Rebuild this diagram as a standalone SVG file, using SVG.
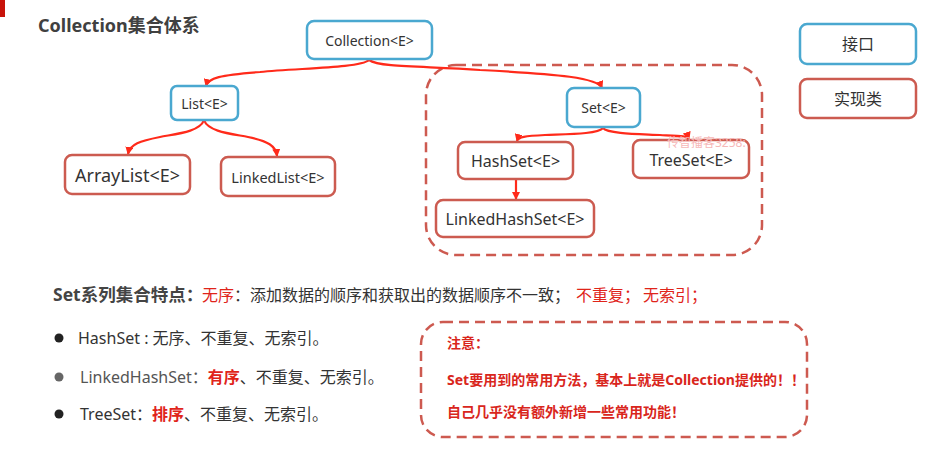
<svg xmlns="http://www.w3.org/2000/svg" width="937" height="449" viewBox="0 0 937 449">
<defs>
<style>
text{font-family:"Noto Sans","Noto Sans CJK SC",sans-serif;fill:#333}
.iface{fill:#fff;stroke:#4aa8d0;stroke-width:2.5}
.impl{fill:#fff;stroke:#cc5b50;stroke-width:2.5}
.lbl{font-size:14px;text-anchor:middle;dominant-baseline:central}
.conn{fill:none;stroke:#ff2a1a;stroke-width:2.2;marker-end:url(#arr)}
.dash{fill:none;stroke:#cd5a50;stroke-width:2.5;stroke-dasharray:10 6}
.body{font-size:16px}
.red{fill:#e0241a}
.note{font-size:14px;font-weight:bold;fill:#d9261c}
</style>
<marker id="arr" viewBox="0 0 8 8" refX="7" refY="4" markerWidth="8" markerHeight="8" markerUnits="userSpaceOnUse" orient="auto">
<path d="M0,0 L8,4 L0,8 z" fill="#ff2a1a"/>
</marker>
</defs>
<rect width="937" height="449" fill="#fff"/>
<rect x="0" y="0" width="5" height="17" fill="#c8130a"/>
<text x="38" y="32" style="font-size:18px;font-weight:bold;fill:#404040">Collection集合体系</text>

<rect class="dash" x="426" y="65" width="336" height="190" rx="30"/>

<g id="connectors">
<path class="conn" d="M369,60 C360,68 300,68 260,72 C220,75 208,78 206,86"/>
<path class="conn" d="M369,60 C380,68 430,66 480,70 C560,74 598,78 602,88"/>
<path class="conn" d="M204,120 C200,132 175,134 160,137 C140,141 130,144 128,154"/>
<path class="conn" d="M204,120 C208,132 233,134 248,137 C268,141 276,146 277,156"/>
<path class="conn" d="M603,128 C598,134 570,134 545,135 C525,136 518,137 517,141"/>
<path class="conn" d="M603,128 C608,134 640,134 660,135 C680,136 688,136 689,139"/>
<path class="conn" d="M516,180 L516,199"/>
</g>

<g id="collection"><rect class="iface" x="307" y="21" width="125" height="38" rx="7"/><text class="lbl" x="369.5" y="40">Collection&lt;E&gt;</text></g>
<g id="list"><rect class="iface" x="171" y="86" width="67" height="34" rx="6"/><text class="lbl" x="204.5" y="103">List&lt;E&gt;</text></g>
<g id="set"><rect class="iface" x="567" y="88" width="73" height="39" rx="7"/><text class="lbl" x="603.5" y="107.5">Set&lt;E&gt;</text></g>
<g id="arraylist"><rect class="impl" x="65" y="155" width="125" height="39" rx="7"/><text class="lbl" x="127.5" y="174.5" style="font-size:18px">ArrayList&lt;E&gt;</text></g>
<g id="linkedlist"><rect class="impl" x="221" y="157" width="114" height="39" rx="7"/><text class="lbl" x="278" y="176.5" style="font-size:14.5px">LinkedList&lt;E&gt;</text></g>
<g id="hashset"><rect class="impl" x="458" y="142" width="115" height="37" rx="7"/><text class="lbl" x="515.5" y="160.5" style="font-size:16px">HashSet&lt;E&gt;</text></g>
<g id="treeset"><rect class="impl" x="633" y="140" width="116" height="38" rx="7"/><text class="lbl" x="691" y="160" style="font-size:16px">TreeSet&lt;E&gt;</text></g>
<g id="linkedhashset"><rect class="impl" x="436" y="200" width="158" height="37" rx="7"/><text class="lbl" x="515" y="218.5" style="font-size:16px">LinkedHashSet&lt;E&gt;</text></g>

<g id="legend-interface"><rect class="iface" x="800" y="24" width="116" height="40" rx="7"/><text class="lbl" x="858" y="44" style="font-size:16px">接口</text></g>
<g id="legend-impl"><rect class="impl" x="800" y="79" width="116" height="39" rx="7"/><text class="lbl" x="858" y="98.5" style="font-size:16px">实现类</text></g>

<text x="667" y="147" style="font-size:12px;fill:#f6b8b8">传智播客3258:</text>

<text class="body" y="301"><tspan x="53" style="font-weight:bold;fill:#444;font-size:17.5px">Set系列集合特点：</tspan><tspan x="202" class="red">无序</tspan><tspan>：添加数据的顺序和获取出的数据顺序不一致；</tspan><tspan x="576" class="red">不重复；</tspan><tspan x="643" class="red">无索引；</tspan></text>

<circle cx="59" cy="338" r="4.5" fill="#222"/>
<text class="body" x="78" y="344">HashSet : 无序、不重复、无索引。</text>
<circle cx="59" cy="377" r="4.5" fill="#666"/>
<text class="body" x="80" y="383"><tspan style="fill:#555">LinkedHashSet：</tspan><tspan class="red" style="font-weight:bold">有序</tspan>、不重复、无索引。</text>
<circle cx="59" cy="414" r="4.5" fill="#222"/>
<text class="body" x="80" y="420">TreeSet：<tspan class="red" style="font-weight:bold">排序</tspan>、不重复、无索引。</text>

<rect class="dash" x="421" y="322" width="386" height="115" rx="22"/>
<text class="note" x="447" y="348">注意：</text>
<text class="note" x="447" y="385">Set要用到的常用方法，基本上就是Collection提供的！！</text>
<text class="note" x="447" y="417">自己几乎没有额外新增一些常用功能！</text>
</svg>
